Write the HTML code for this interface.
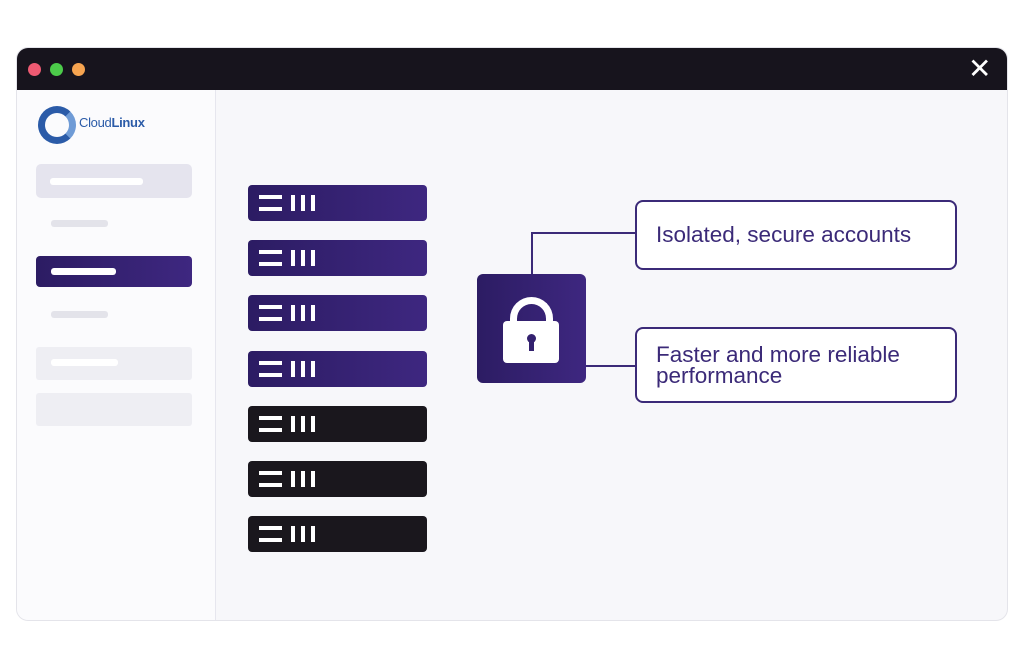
<!DOCTYPE html>
<html><head><style>
body{margin:0;width:1024px;height:664px;background:#fff;position:relative;overflow:hidden;font-family:"Liberation Sans",sans-serif}
div{position:absolute;box-sizing:border-box}
.win{left:16px;top:47px;width:992px;height:574px;border-radius:12px;background:#f7f7fa;border:1px solid #e4e4ea;overflow:hidden}
.bar{left:0;top:0;width:992px;height:42px;background:#17141d}
.dot{width:13px;height:13px;border-radius:50%;top:15px}
.side{left:0;top:42px;width:199px;height:532px;background:#fbfbfd;border-right:1px solid #e6e6ee}
.srv{left:248px;width:179px;height:36px;border-radius:4px;background:linear-gradient(90deg,#2c1c63,#3e2780)}
.blk{background:#1a171d}
.h{background:#fff;height:4px;width:23px;left:11px}
.v{background:#fff;width:4px;height:16px;top:10px}
.box{left:635px;width:322px;border:2px solid #3b2a78;border-radius:8px;background:#fff;color:#3b2a78;font-size:22.5px;padding-left:19px;line-height:21px}
</style></head><body>
<div class="win">
 <div class="bar">
  <div class="dot" style="left:11px;background:#ee5a72"></div>
  <div class="dot" style="left:33px;background:#4ccb4a"></div>
  <div class="dot" style="left:55px;background:#f6a450"></div>
  <div style="left:951px;top:9px;color:#fff;font-size:28px;line-height:24px">✕</div>
 </div>
 <div class="side">
  <div style="left:21px;top:16px;width:38px;height:38px;border-radius:50%;border:7px solid #2b5ba8;border-right-color:#6f9bd6"></div>
  <div style="left:62px;top:25px;font-size:13px;color:#2b5ba8;letter-spacing:-0.3px">Cloud<b>Linux</b></div>
  <div style="left:19px;top:74px;width:156px;height:34px;border-radius:5px;background:#e5e4ee"><div style="left:14px;top:14px;width:93px;height:7px;border-radius:3px;background:#fff"></div></div>
  <div style="left:34px;top:130px;width:57px;height:7px;border-radius:3px;background:#e3e3ea"></div>
  <div style="left:19px;top:166px;width:156px;height:31px;border-radius:4px;background:linear-gradient(90deg,#2c1c63,#3e2780)"><div style="left:15px;top:12px;width:65px;height:7px;border-radius:3px;background:#fff"></div></div>
  <div style="left:34px;top:221px;width:57px;height:7px;border-radius:3px;background:#e3e3ea"></div>
  <div style="left:19px;top:257px;width:156px;height:33px;border-radius:3px;background:#eeeef3"><div style="left:15px;top:12px;width:67px;height:7px;border-radius:3px;background:#fff"></div></div>
  <div style="left:19px;top:303px;width:156px;height:33px;border-radius:3px;background:#eeeef3"></div>
 </div>
</div>
<div class="srv" style="top:185px"><div class="h" style="top:10px"></div><div class="h" style="top:22px"></div><div class="v" style="left:43px"></div><div class="v" style="left:53px"></div><div class="v" style="left:63px"></div></div>
<div class="srv" style="top:240px"><div class="h" style="top:10px"></div><div class="h" style="top:22px"></div><div class="v" style="left:43px"></div><div class="v" style="left:53px"></div><div class="v" style="left:63px"></div></div>
<div class="srv" style="top:295px"><div class="h" style="top:10px"></div><div class="h" style="top:22px"></div><div class="v" style="left:43px"></div><div class="v" style="left:53px"></div><div class="v" style="left:63px"></div></div>
<div class="srv" style="top:351px"><div class="h" style="top:10px"></div><div class="h" style="top:22px"></div><div class="v" style="left:43px"></div><div class="v" style="left:53px"></div><div class="v" style="left:63px"></div></div>
<div class="srv blk" style="top:406px"><div class="h" style="top:10px"></div><div class="h" style="top:22px"></div><div class="v" style="left:43px"></div><div class="v" style="left:53px"></div><div class="v" style="left:63px"></div></div>
<div class="srv blk" style="top:461px"><div class="h" style="top:10px"></div><div class="h" style="top:22px"></div><div class="v" style="left:43px"></div><div class="v" style="left:53px"></div><div class="v" style="left:63px"></div></div>
<div class="srv blk" style="top:516px"><div class="h" style="top:10px"></div><div class="h" style="top:22px"></div><div class="v" style="left:43px"></div><div class="v" style="left:53px"></div><div class="v" style="left:63px"></div></div>
<div style="left:531px;top:232px;width:2px;height:43px;background:#3b2a78"></div>
<div style="left:531px;top:232px;width:105px;height:2px;background:#3b2a78"></div>
<div style="left:585px;top:365px;width:51px;height:2px;background:#3b2a78"></div>
<div style="left:477px;top:274px;width:109px;height:109px;border-radius:6px;background:linear-gradient(90deg,#2c1c63,#3e2780)">
 <div style="left:33px;top:23px;width:43px;height:40px;border:7px solid #fff;border-bottom:none;border-radius:22px 22px 0 0"></div>
 <div style="left:26px;top:47px;width:56px;height:42px;border-radius:4px;background:#fff"></div>
 <div style="left:50px;top:60px;width:9px;height:9px;border-radius:50%;background:#33216f"></div>
 <div style="left:52px;top:65px;width:5px;height:12px;background:#33216f"></div>
</div>
<div class="box" style="top:200px;height:70px;padding-top:22px">Isolated, secure accounts</div>
<div class="box" style="top:327px;height:76px;padding-top:15px">Faster and more reliable<br>performance</div>
</body></html>
